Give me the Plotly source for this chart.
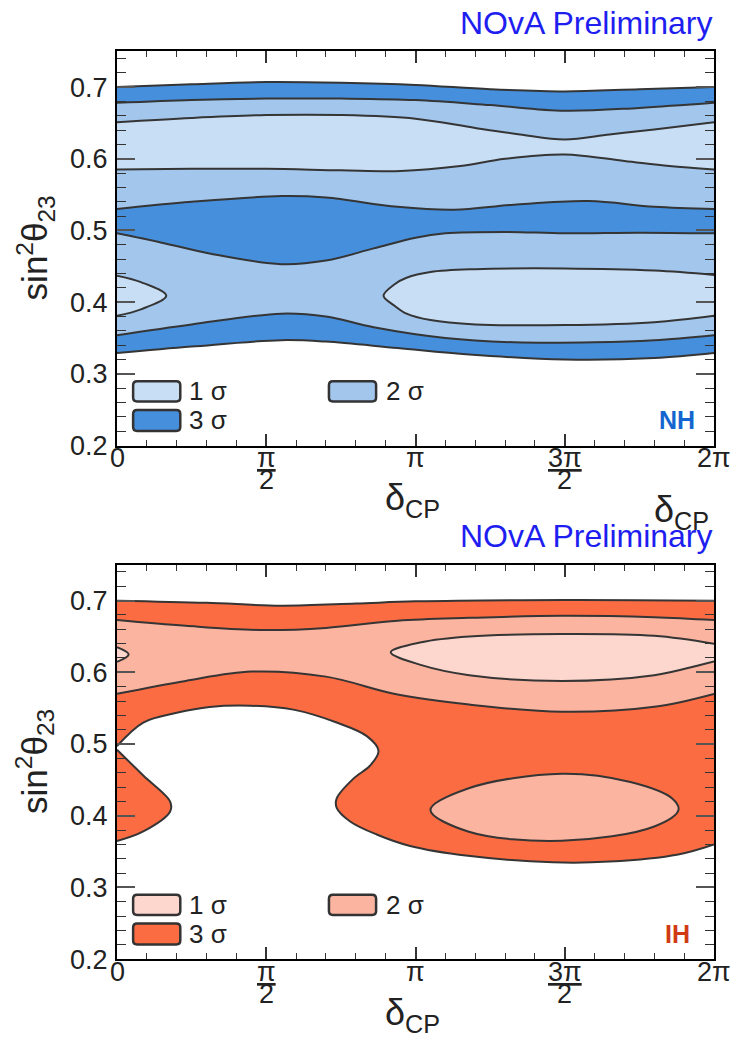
import plotly.graph_objects as go

# ---------------- data (x = delta_CP in units of pi, y = sin^2 theta_23) ----------------
# Normal hierarchy (top panel) contour boundaries
nh_c1_x = [0, 0.25, 0.5, 0.75, 1.0, 1.25, 1.5, 1.75, 2.0]          # outer top of 3 sigma
nh_c1_y = [0.700, 0.704, 0.707, 0.706, 0.703, 0.697, 0.694, 0.697, 0.700]
nh_c2_x = [0, 0.25, 0.5, 0.75, 1.0, 1.25, 1.5, 1.75, 2.0]          # 3 sigma / 2 sigma (upper)
nh_c2_y = [0.678, 0.682, 0.684, 0.684, 0.682, 0.675, 0.667, 0.671, 0.678]
nh_c3_x = [0, 0.25, 0.5, 0.75, 1.0, 1.2, 1.35, 1.5, 1.65, 1.8, 2.0]  # 2 sigma / 1 sigma (upper)
nh_c3_y = [0.651, 0.657, 0.661, 0.661, 0.656, 0.643, 0.634, 0.627, 0.634, 0.641, 0.651]
nh_c4_x = [0, 0.25, 0.5, 0.75, 0.95, 1.15, 1.3, 1.5, 1.7, 1.85, 2.0]  # 1 sigma / 2 sigma
nh_c4_y = [0.585, 0.586, 0.586, 0.584, 0.583, 0.590, 0.600, 0.606, 0.597, 0.590, 0.585]
nh_c5_x = [0, 0.25, 0.55, 0.7, 0.94, 1.13, 1.33, 1.58, 1.8, 2.0]      # 2 sigma / 3 sigma (middle band top)
nh_c5_y = [0.530, 0.540, 0.548, 0.546, 0.533, 0.529, 0.536, 0.541, 0.533, 0.530]
nh_c6_x = [0, 0.15, 0.31, 0.55, 0.7, 0.86, 1.0, 1.1, 1.3, 1.5, 1.75, 2.0]  # middle band bottom
nh_c6_y = [0.496, 0.483, 0.468, 0.453, 0.458, 0.475, 0.490, 0.496, 0.498, 0.496, 0.497, 0.496]
nh_c7_x = [0, 0.25, 0.55, 0.7, 0.86, 1.1, 1.33, 1.6, 1.8, 2.0]        # 2 sigma / 3 sigma (lower)
nh_c7_y = [0.354, 0.369, 0.384, 0.380, 0.365, 0.350, 0.344, 0.344, 0.347, 0.354]
nh_c8_x = [0, 0.25, 0.55, 0.7, 0.94, 1.18, 1.5, 1.8, 2.0]             # outer bottom of 3 sigma
nh_c8_y = [0.329, 0.338, 0.347, 0.345, 0.336, 0.327, 0.320, 0.322, 0.329]
nh_isl_left_x = [0, 0.08, 0.165, 0.08, 0]                              # 1 sigma island at 0
nh_isl_left_y = [0.437, 0.428, 0.409, 0.390, 0.381]
nh_isl_right_x = [2.0, 1.8, 1.5, 1.2, 1.05, 0.97, 0.93, 0.893, 0.93, 0.97, 1.05, 1.2, 1.5, 1.8, 2.0]
nh_isl_right_y = [0.438, 0.444, 0.447, 0.446, 0.442, 0.434, 0.425, 0.409, 0.395, 0.384, 0.375, 0.369, 0.368, 0.372, 0.381]

# Inverted hierarchy (bottom panel) contour boundaries
ih_d1_x = [0, 0.3, 0.55, 0.8, 1.0, 1.5, 2.0]                           # outer top of 3 sigma
ih_d1_y = [0.700, 0.697, 0.693, 0.696, 0.699, 0.701, 0.700]
ih_d2_x = [0, 0.23, 0.49, 0.7, 0.94, 1.18, 1.49, 1.8, 2.0]             # 3 sigma / 2 sigma
ih_d2_y = [0.673, 0.665, 0.659, 0.662, 0.672, 0.676, 0.679, 0.677, 0.673]
ih_d3_x = [0, 0.23, 0.45, 0.7, 0.94, 1.18, 1.49, 1.8, 2.0]             # 2 sigma / 3 sigma
ih_d3_y = [0.570, 0.588, 0.601, 0.594, 0.569, 0.555, 0.545, 0.552, 0.570]
ih_low_x = [0, 0.088, 0.2, 0.31, 0.446, 0.591, 0.736, 0.837, 0.876, 0.848, 0.792, 0.736, 0.736,
            0.781, 0.870, 0.982, 1.176, 1.46, 1.65, 1.88, 2.0]          # lower edge of 3 sigma
ih_low_y = [0.497, 0.530, 0.5435, 0.5517, 0.5535, 0.548, 0.530, 0.511, 0.4906, 0.470, 0.4517, 0.4242, 0.4109,
            0.392, 0.3738, 0.3578, 0.344, 0.335, 0.336, 0.346, 0.360]
ih_lobe_x = [0, 0.088, 0.178, 0.178, 0.088, 0]                          # 3 sigma lobe at 0
ih_lobe_y = [0.492, 0.456, 0.4197, 0.4059, 0.378, 0.3646]
ih_isl1_left_x = [0, 0.039, 0]                                          # 1 sigma sliver at 0
ih_isl1_left_y = [0.635, 0.625, 0.6145]
ih_isl1_right_x = [2.0, 1.8, 1.49, 1.18, 1.02, 0.917, 1.02, 1.18, 1.49, 1.8, 1.95, 2.0]
ih_isl1_right_y = [0.640, 0.651, 0.6535, 0.650, 0.642, 0.628, 0.610, 0.596, 0.588, 0.596, 0.610, 0.615]
ih_isl2_x = [1.05, 1.176, 1.49, 1.72, 1.86, 1.881, 1.80, 1.49, 1.176, 1.05]  # 2 sigma ellipse
ih_isl2_y = [0.408, 0.438, 0.4586, 0.447, 0.424, 0.408, 0.385, 0.365, 0.378, 0.408]

# ticks / labels
x_tick_vals = [0, 0.5, 1.0, 1.5, 2.0]
x_tick_num = ["0", "<u>π</u>", "π", "<u>3π</u>", "2π"]
x_tick_den = ["", "2", "", "2", ""]
y_tick_vals = [0.2, 0.3, 0.4, 0.5, 0.6, 0.7]
y_tick_text = ["0.2", "0.3", "0.4", "0.5", "0.6", "0.7"]
legend_labels = ["1 σ", "2 σ", "3 σ"]

NH_COLORS = ["#c8def5", "#a2c6ec", "#468fdc"]   # 1, 2, 3 sigma
IH_COLORS = ["#fdd7cd", "#fbb4a0", "#fc6c42"]
LINE = "#353535"
FONT = "Liberation Sans"

W, H = 730, 1049
X0, X1 = 117, 714
PANELS = [(52, 452), (573, 973)]


def py(p):
    return 1 - p / H


def line_tr(x, y, xa, ya, fill=None, color=None):
    kw = dict(x=x, y=y, mode="lines", xaxis=xa, yaxis=ya, hoverinfo="skip", showlegend=False,
              line=dict(color=LINE, width=2, shape="spline", smoothing=1))
    if fill:
        kw.update(fill=fill, fillcolor=color)
    return go.Scatter(**kw)


def rounded_box(x0, x1, y0, y1, rx, ry):
    return (f"M{x0 + rx},{y0} L{x1 - rx},{y0} Q{x1},{y0} {x1},{y0 + ry} L{x1},{y1 - ry} "
            f"Q{x1},{y1} {x1 - rx},{y1} L{x0 + rx},{y1} Q{x0},{y1} {x0},{y1 - ry} "
            f"L{x0},{y0 + ry} Q{x0},{y0} {x0 + rx},{y0} Z")


fig = go.Figure()
# ---- NH
c = NH_COLORS
fig.add_trace(line_tr(nh_c8_x, nh_c8_y, "x", "y"))
fig.add_trace(line_tr(nh_c1_x, nh_c1_y, "x", "y", "tonexty", c[2]))
fig.add_trace(line_tr(nh_c5_x, nh_c5_y, "x", "y"))
fig.add_trace(line_tr(nh_c2_x, nh_c2_y, "x", "y", "tonexty", c[1]))
fig.add_trace(line_tr(nh_c4_x, nh_c4_y, "x", "y"))
fig.add_trace(line_tr(nh_c3_x, nh_c3_y, "x", "y", "tonexty", c[0]))
fig.add_trace(line_tr(nh_c7_x, nh_c7_y, "x", "y"))
fig.add_trace(line_tr(nh_c6_x, nh_c6_y, "x", "y", "tonexty", c[1]))
fig.add_trace(line_tr(nh_isl_left_x, nh_isl_left_y, "x", "y", "toself", c[0]))
fig.add_trace(line_tr(nh_isl_right_x, nh_isl_right_y, "x", "y", "toself", c[0]))
# ---- IH
c = IH_COLORS
fig.add_trace(line_tr(ih_low_x, ih_low_y, "x2", "y2"))
fig.add_trace(line_tr(ih_d1_x, ih_d1_y, "x2", "y2", "tonexty", c[2]))
fig.add_trace(line_tr(ih_d3_x, ih_d3_y, "x2", "y2"))
fig.add_trace(line_tr(ih_d2_x, ih_d2_y, "x2", "y2", "tonexty", c[1]))
fig.add_trace(line_tr(ih_lobe_x, ih_lobe_y, "x2", "y2", "toself", c[2]))
fig.add_trace(line_tr(ih_isl1_left_x, ih_isl1_left_y, "x2", "y2", "toself", c[0]))
fig.add_trace(line_tr(ih_isl1_right_x, ih_isl1_right_y, "x2", "y2", "toself", c[0]))
fig.add_trace(line_tr(ih_isl2_x, ih_isl2_y, "x2", "y2", "toself", c[1]))

xax = dict(range=[0, 2], showgrid=False, zeroline=False, showline=True, linecolor="black", linewidth=2,
           mirror="ticks", ticks="inside", ticklen=12, tickwidth=1.5, tickcolor="#333",
           tickvals=x_tick_vals, showticklabels=False,
           minor=dict(tickmode="linear", tick0=0, dtick=0.1, ticks="inside", ticklen=6,
                      tickwidth=1.2, tickcolor="#333"))
yax = dict(range=[0.2, 0.75], showgrid=False, zeroline=False, showline=True, linecolor="black", linewidth=2,
           mirror="ticks", ticks="inside", ticklen=18, tickwidth=2, tickcolor="#555",
           tickvals=y_tick_vals, ticktext=y_tick_text, tickfont=dict(family=FONT, size=27, color="#222"),
           ticklabelstandoff=2,
           minor=dict(tickmode="linear", tick0=0.2, dtick=0.02, ticks="inside", ticklen=9,
                      tickwidth=1.2, tickcolor="#333"))

layout = dict(width=W, height=H, margin=dict(l=0, r=0, t=0, b=0), paper_bgcolor="white",
              plot_bgcolor="white", showlegend=False, font=dict(family=FONT))
shapes, annos = [], []
for i, (top, bot) in enumerate(PANELS):
    sfx = "" if i == 0 else "2"
    layout["xaxis" + sfx] = dict(xax, domain=[X0 / W, X1 / W], anchor="y" + sfx)
    layout["yaxis" + sfx] = dict(yax, domain=[py(bot), py(top)], anchor="x" + sfx)
    cols = NH_COLORS if i == 0 else IH_COLORS
    xr, yr = "x" + sfx + " domain", "y" + sfx + " domain"
    # legend boxes (1 sigma, 2 sigma on first row, 3 sigma below)
    boxes = [(0.027, 0.106, 0.112, 0.163), (0.355, 0.434, 0.112, 0.163), (0.027, 0.106, 0.037, 0.090)]
    text_x = [0.117, 0.447, 0.117]
    for k, (bx0, bx1, by0, by1) in enumerate(boxes):
        shapes.append(dict(type="path", xref=xr, yref=yr,
                           path=rounded_box(bx0, bx1, by0, by1, 4 / (X1 - X0), 4 / (bot - top)),
                           fillcolor=cols[k], line=dict(color="#333", width=2.5)))
        annos.append(dict(xref=xr, yref=yr, x=text_x[k], y=(by0 + by1) / 2, xanchor="left", yanchor="middle",
                          text=legend_labels[k], showarrow=False, font=dict(family=FONT, size=26, color="#222")))
    # x tick labels (fractions)
    for v, num, den in zip(x_tick_vals, x_tick_num, x_tick_den):
        annos.append(dict(xref="x" + sfx, yref="paper", x=v, y=py(bot + 13), xanchor="center", yanchor="middle",
                          text=num, showarrow=False, font=dict(family=FONT, size=27, color="#222")))
        if den:
            annos.append(dict(xref="x" + sfx, yref="paper", x=v, y=py(bot + 35), xanchor="center",
                              yanchor="middle", text=den, showarrow=False,
                              font=dict(family=FONT, size=27, color="#222")))
    # y title
    annos.append(dict(xref="paper", yref="paper", x=35 / W, y=py((top + bot) / 2), xanchor="center",
                      yanchor="middle", textangle=-90, text="sin<sup>2</sup>θ<sub>23</sub>", showarrow=False,
                      font=dict(family=FONT, size=35, color="#222")))

# titles and labels
annos += [
    dict(xref="paper", yref="paper", x=715 / W, y=py(23), xanchor="right", yanchor="middle",
         text="NOvA Preliminary", showarrow=False, font=dict(family=FONT, size=32, color="#1e1ef0")),
    dict(xref="paper", yref="paper", x=715 / W, y=py(544), xanchor="right", yanchor="middle",
         text="NOvA Preliminary", showarrow=False, font=dict(family=FONT, size=32, color="#1e1ef0")),
    dict(xref="paper", yref="paper", x=413 / W, y=py(507), xanchor="center", yanchor="middle",
         text="δ<sub>CP</sub>", showarrow=False, font=dict(family=FONT, size=36, color="#222")),
    dict(xref="paper", yref="paper", x=681 / W, y=py(519), xanchor="center", yanchor="middle",
         text="δ<sub>CP</sub>", showarrow=False, font=dict(family=FONT, size=36, color="#222")),
    dict(xref="paper", yref="paper", x=413 / W, y=py(1030), xanchor="center", yanchor="middle",
         text="δ<sub>CP</sub>", showarrow=False, font=dict(family=FONT, size=36, color="#222")),
    dict(xref="paper", yref="paper", x=697 / W, y=py(426), xanchor="right", yanchor="middle",
         text="<b>NH</b>", showarrow=False, font=dict(family=FONT, size=25, color="#1565d0")),
    dict(xref="paper", yref="paper", x=692 / W, y=py(948), xanchor="right", yanchor="middle",
         text="<b>IH</b>", showarrow=False, font=dict(family=FONT, size=25, color="#d03a14")),
]
layout["shapes"] = shapes
layout["annotations"] = annos
fig.update_layout(**layout)
fig.write_html("out.html", config={"displayModeBar": False},
               post_script="document.body.style.margin='0px';document.body.style.overflow='hidden';")
